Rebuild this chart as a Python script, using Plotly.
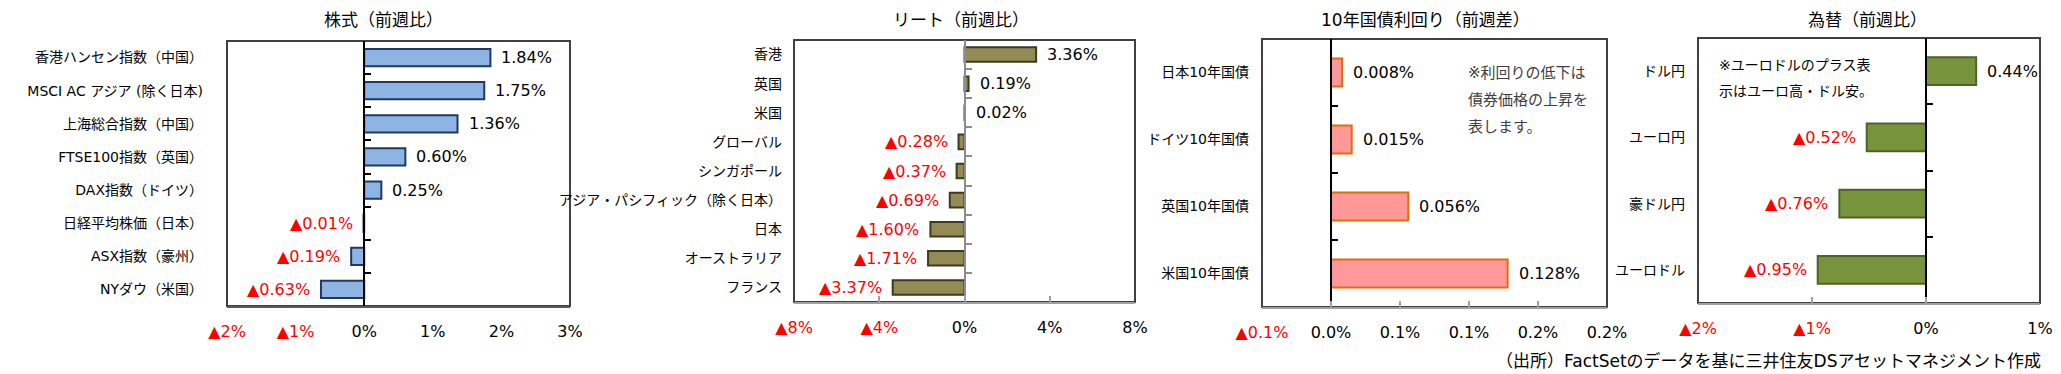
import plotly.graph_objects as go

W, H = 2061, 374
OFF = 8  # page body margin
FONT = "DejaVu Sans, Noto Sans CJK JP, sans-serif"
RED = "#FF0000"

# ---------------- data ----------------
eq_title = "株式（前週比）"
eq_cats = ["香港ハンセン指数（中国）", "MSCI AC アジア (除く日本)", "上海総合指数（中国）",
           "FTSE100指数（英国）", "DAX指数（ドイツ）", "日経平均株価（日本）",
           "ASX指数（豪州）", "NYダウ（米国）"]
eq_vals = [1.84, 1.75, 1.36, 0.60, 0.25, -0.01, -0.19, -0.63]
eq_ticks = [-2, -1, 0, 1, 2, 3]
eq_ticklabels = ["▲2%", "▲1%", "0%", "1%", "2%", "3%"]

reit_title = "リート（前週比）"
reit_cats = ["香港", "英国", "米国", "グローバル", "シンガポール",
             "アジア・パシフィック（除く日本）", "日本", "オーストラリア", "フランス"]
reit_vals = [3.36, 0.19, 0.02, -0.28, -0.37, -0.69, -1.60, -1.71, -3.37]
reit_ticks = [-8, -4, 0, 4, 8]
reit_ticklabels = ["▲8%", "▲4%", "0%", "4%", "8%"]

bond_title = "10年国債利回り（前週差）"
bond_cats = ["日本10年国債", "ドイツ10年国債", "英国10年国債", "米国10年国債"]
bond_vals = [0.008, 0.015, 0.056, 0.128]
bond_ticks = [-0.05, 0, 0.05, 0.10, 0.15, 0.20]
bond_ticklabels = ["▲0.1%", "0.0%", "0.1%", "0.1%", "0.2%", "0.2%"]
bond_note = ["※利回りの低下は", "債券価格の上昇を", "表します。"]

fx_title = "為替（前週比）"
fx_cats = ["ドル円", "ユーロ円", "豪ドル円", "ユーロドル"]
fx_vals = [0.44, -0.52, -0.76, -0.95]
fx_ticks = [-2, -1, 0, 1]
fx_ticklabels = ["▲2%", "▲1%", "0%", "1%"]
fx_note = ["※ユーロドルのプラス表", "示はユーロ高・ドル安。"]

source_text = "（出所）FactSetのデータを基に三井住友DSアセットマネジメント作成"

# ---------------- layout helpers ----------------
def px_x(x):
    return (x - OFF) / W

def px_y(y):
    return 1 - (y - OFF) / H

panels = [
    dict(title=eq_title, cats=eq_cats, vals=eq_vals, ticks=eq_ticks, labels=eq_ticklabels,
         rng=[-2, 3], px=(227, 570), py=(41, 306), fill="#8DB4E2", line="#1F3864",
         zero="#000000", bottom="#595959", bticks=False, bargap=0.48, fmt="{:.2f}%",
         title_x=383, standoff=23),
    dict(title=reit_title, cats=reit_cats, vals=reit_vals, ticks=reit_ticks, labels=reit_ticklabels,
         rng=[-8, 8], px=(794, 1135), py=(40, 302), fill="#948A54", line="#3D3A22",
         zero="#8C8C8C", bottom="#A0A0A0", bticks=True, bargap=0.5, fmt="{:.2f}%",
         title_x=961, standoff=11),
    dict(title=bond_title, cats=bond_cats, vals=bond_vals, ticks=bond_ticks, labels=bond_ticklabels,
         rng=[-0.05, 0.20], px=(1262, 1607), py=(39, 307), fill="#FF9999", line="#E46C0A",
         zero="#000000", bottom="#A0A0A0", bticks=True, bargap=0.58, fmt="{:.3f}%",
         title_x=1425, standoff=12),
    dict(title=fx_title, cats=fx_cats, vals=fx_vals, ticks=fx_ticks, labels=fx_ticklabels,
         rng=[-2, 1], px=(1698, 2040), py=(38, 303), fill="#77933C", line="#4F6228",
         zero="#000000", bottom="#A0A0A0", bticks=True, bargap=0.58, fmt="{:.2f}%",
         title_x=1867, standoff=12),
]

fig = go.Figure()
annotations = []
shapes = []
layout = {}

for i, p in enumerate(panels):
    k = i + 1
    xa = "x" if k == 1 else f"x{k}"
    ya = "y" if k == 1 else f"y{k}"
    ya_ov = f"y{k + 4}"
    n = len(p["cats"])
    x0, x1 = p["px"]
    y0, y1 = p["py"]
    dom_x = [px_x(x0), px_x(x1)]
    dom_y = [px_y(y1), px_y(y0)]

    fig.add_trace(go.Bar(
        x=p["vals"], y=p["cats"], orientation="h", xaxis=xa, yaxis=ya,
        width=1 - p["bargap"],
        marker=dict(color=p["fill"], line=dict(color=p["line"], width=2)),
        hoverinfo="skip", showlegend=False,
    ))
    # invisible helper trace for the zero-line axis (category ticks on zero line)
    fig.add_trace(go.Scatter(
        x=p["vals"], y=p["cats"], xaxis=xa, yaxis=ya_ov, mode="markers",
        marker=dict(opacity=0), hoverinfo="skip", showlegend=False,
    ))

    ticktext = [f'<span style="color:{RED}">{t}</span>' if t.startswith("▲") else t
                for t in p["labels"]]

    layout["xaxis" if k == 1 else f"xaxis{k}"] = dict(
        domain=dom_x, anchor=ya, range=p["rng"], tickmode="array",
        tickvals=p["ticks"], ticktext=ticktext, showgrid=False, zeroline=False,
        showline=True, linecolor=p["bottom"], linewidth=2,
        ticks="inside" if p["bticks"] else "", ticklen=6, tickwidth=2, tickcolor=p["bottom"],
        ticklabelstandoff=10, automargin=False,
        tickfont=dict(family=FONT, size=16, color="#000000"), fixedrange=True,
    )
    layout["yaxis" if k == 1 else f"yaxis{k}"] = dict(
        domain=dom_y, anchor=xa, type="category", categoryorder="array",
        categoryarray=p["cats"], range=[n - 0.5, -0.5], showgrid=False, zeroline=False,
        showline=False, ticks="", ticklabelstandoff=p["standoff"], automargin=False,
        tickfont=dict(family=FONT, size=14, color="#000000"), fixedrange=True,
    )
    zero_pos = dom_x[0] + (0 - p["rng"][0]) / (p["rng"][1] - p["rng"][0]) * (dom_x[1] - dom_x[0])
    layout[f"yaxis{k + 4}"] = dict(
        overlaying=ya, anchor="free", position=zero_pos, side="left",
        type="category", categoryorder="array", categoryarray=p["cats"],
        range=[n - 0.5, -0.5], showgrid=False, zeroline=False, showticklabels=False,
        showline=True, linecolor=p["zero"], linewidth=2,
        ticks="inside", tickson="boundaries", ticklen=6, tickwidth=2, tickcolor=p["zero"],
        automargin=False, fixedrange=True,
    )

    shapes.append(dict(type="rect", xref=f"{xa} domain", yref=f"{ya} domain",
                       x0=0, x1=1, y0=0, y1=1, layer="below",
                       line=dict(color="#404040", width=2)))

    for c, v in zip(p["cats"], p["vals"]):
        txt = p["fmt"].format(abs(v))
        if v < 0:
            txt = "▲" + txt
        annotations.append(dict(
            x=v, y=c, xref=xa, yref=ya, text=txt, showarrow=False,
            xanchor="left" if v >= 0 else "right", xshift=9 if v >= 0 else -9,
            font=dict(family=FONT, size=16, color="#000000" if v >= 0 else RED),
        ))

    annotations.append(dict(
        x=px_x(p["title_x"]), y=px_y(20), xref="paper", yref="paper", text=p["title"],
        showarrow=False, xanchor="center", yanchor="middle",
        font=dict(family=FONT, size=17, color="#000000"),
    ))

for j, line in enumerate(bond_note):
    annotations.append(dict(
        x=px_x(1466), y=px_y(73 + 27 * j), xref="paper", yref="paper", text=line,
        showarrow=False, xanchor="left", yanchor="middle",
        font=dict(family=FONT, size=15, color="#404040"),
    ))
for j, line in enumerate(fx_note):
    annotations.append(dict(
        x=px_x(1717), y=px_y(65 + 26 * j), xref="paper", yref="paper", text=line,
        showarrow=False, xanchor="left", yanchor="middle",
        font=dict(family=FONT, size=14, color="#000000"),
    ))

annotations.append(dict(
    x=px_x(2043), y=px_y(361), xref="paper", yref="paper", text=source_text,
    showarrow=False, xanchor="right", yanchor="middle",
    font=dict(family=FONT, size=17, color="#000000"),
))

fig.update_layout(
    width=W, height=H, template="none",
    margin=dict(l=0, r=0, t=0, b=0, pad=0),
    paper_bgcolor="#FFFFFF", plot_bgcolor="#FFFFFF",
    showlegend=False, barmode="relative",
    annotations=annotations, shapes=shapes,
    **layout,
)

fig.write_html("out.html")
